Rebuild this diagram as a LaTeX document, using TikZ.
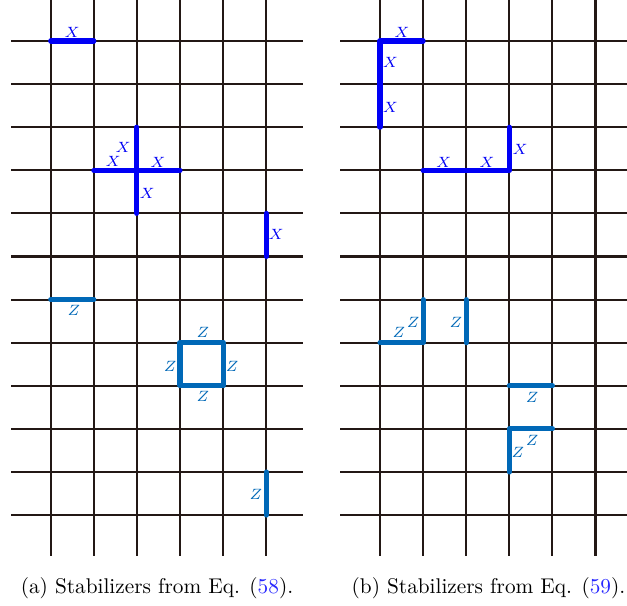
\documentclass[tikz,border=0pt]{standalone}
\definecolor{gridc}{RGB}{35,24,21}
\definecolor{xblue}{RGB}{0,0,245}
\definecolor{zblue}{RGB}{0,104,183}
\definecolor{linkc}{RGB}{40,40,255}
\tikzset{
  gridline/.style={draw=gridc, line width=1pt},
  xop/.style={draw=xblue, line width=2.4pt, line cap=round, line join=round},
  zop/.style={draw=zblue, line width=2.4pt, line cap=round, line join=round},
  xlab/.style={text=xblue, inner sep=0pt, font=\fontsize{7.3}{8}\selectfont},
  zlab/.style={text=zblue, inner sep=0pt, font=\fontsize{7.3}{8}\selectfont},
  capt/.style={inner sep=0pt, anchor=base, font=\fontsize{10}{12}\selectfont}
}
\begin{document}
\begin{tikzpicture}[x=0.47pt, y=-0.47pt]
\useasboundingbox (0,0) rectangle (627,605);
% ---------- left panel ----------
\begin{scope}[shift={(50.7,41)}, scale=43.1]
  \foreach \i in {0,...,5} \draw[gridline] (\i,-0.951) -- (\i,11.95);
  \foreach \j in {0,...,11} \draw[gridline] (-0.914,\j) -- (5.847,\j);
  % X operators
  \draw[xop] (0,0) -- (1,0);
  \node[xlab] (la1) at (0.5,-0.21) {$X$};
  \draw[xop] (2,2) -- (2,4);
  \draw[xop] (1,3) -- (3,3);
  \node[xlab] (la2) at (1.68,2.48) {$X$};
  \node[xlab] (la3) at (1.45,2.79) {$X$};
  \node[xlab] (la4) at (2.49,2.81) {$X$};
  \node[xlab] (la5) at (2.24,3.53) {$X$};
  \draw[xop] (5,4) -- (5,5);
  \node[xlab] (la6) at (5.23,4.49) {$X$};
  % Z operators
  \draw[zop] (0,6) -- (1,6);
  \node[zlab] (la7) at (0.54,6.25) {$Z$};
  \draw[zop] (3,7) rectangle (4,8);
  \node[zlab] (la8) at (3.53,6.77) {$Z$};
  \node[zlab] (la9) at (2.77,7.54) {$Z$};
  \node[zlab] (la10) at (4.21,7.54) {$Z$};
  \node[zlab] (la11) at (3.53,8.25) {$Z$};
  \draw[zop] (5,10) -- (5,11);
  \node[zlab] (la12) at (4.76,10.51) {$Z$};
\end{scope}
% ---------- right panel ----------
\begin{scope}[shift={(380,41)}, scale=43.1]
  \foreach \i in {0,...,5} \draw[gridline] (\i,-0.951) -- (\i,11.95);
  \foreach \j in {0,...,11} \draw[gridline] (-0.921,\j) -- (5.75,\j);
  % X operators
  \draw[xop] (1,0) -- (0,0) -- (0,2);
  \node[xlab] (lb1) at (0.51,-0.21) {$X$};
  \node[xlab] (lb2) at (0.24,0.49) {$X$};
  \node[xlab] (lb3) at (0.24,1.53) {$X$};
  \draw[xop] (1,3) -- (3,3) -- (3,2);
  \node[xlab] (lb4) at (1.48,2.81) {$X$};
  \node[xlab] (lb5) at (2.48,2.81) {$X$};
  \node[xlab] (lb6) at (3.25,2.51) {$X$};
  % Z operators
  \draw[zop] (0,7) -- (1,7) -- (1,6);
  \node[zlab] (lb7) at (0.44,6.77) {$Z$};
  \node[zlab] (lb8) at (0.77,6.54) {$Z$};
  \draw[zop] (2,6) -- (2,7);
  \node[zlab] (lb9) at (1.76,6.52) {$Z$};
  \draw[zop] (3,8) -- (4,8);
  \node[zlab] (lb10) at (3.53,8.26) {$Z$};
  \draw[zop] (4,9) -- (3,9) -- (3,10);
  \node[zlab] (lb11) at (3.20,9.54) {$Z$};
  \node[zlab] (lb12) at (3.53,9.26) {$Z$};
\end{scope}
% ---------- captions ----------
\node[capt] (capa) at (157,593) {(a) Stabilizers from Eq. (\textcolor{linkc}{58}).};
\node[capt] (capb) at (488.5,593) {(b) Stabilizers from Eq. (\textcolor{linkc}{59}).};
\end{tikzpicture}
\end{document}
